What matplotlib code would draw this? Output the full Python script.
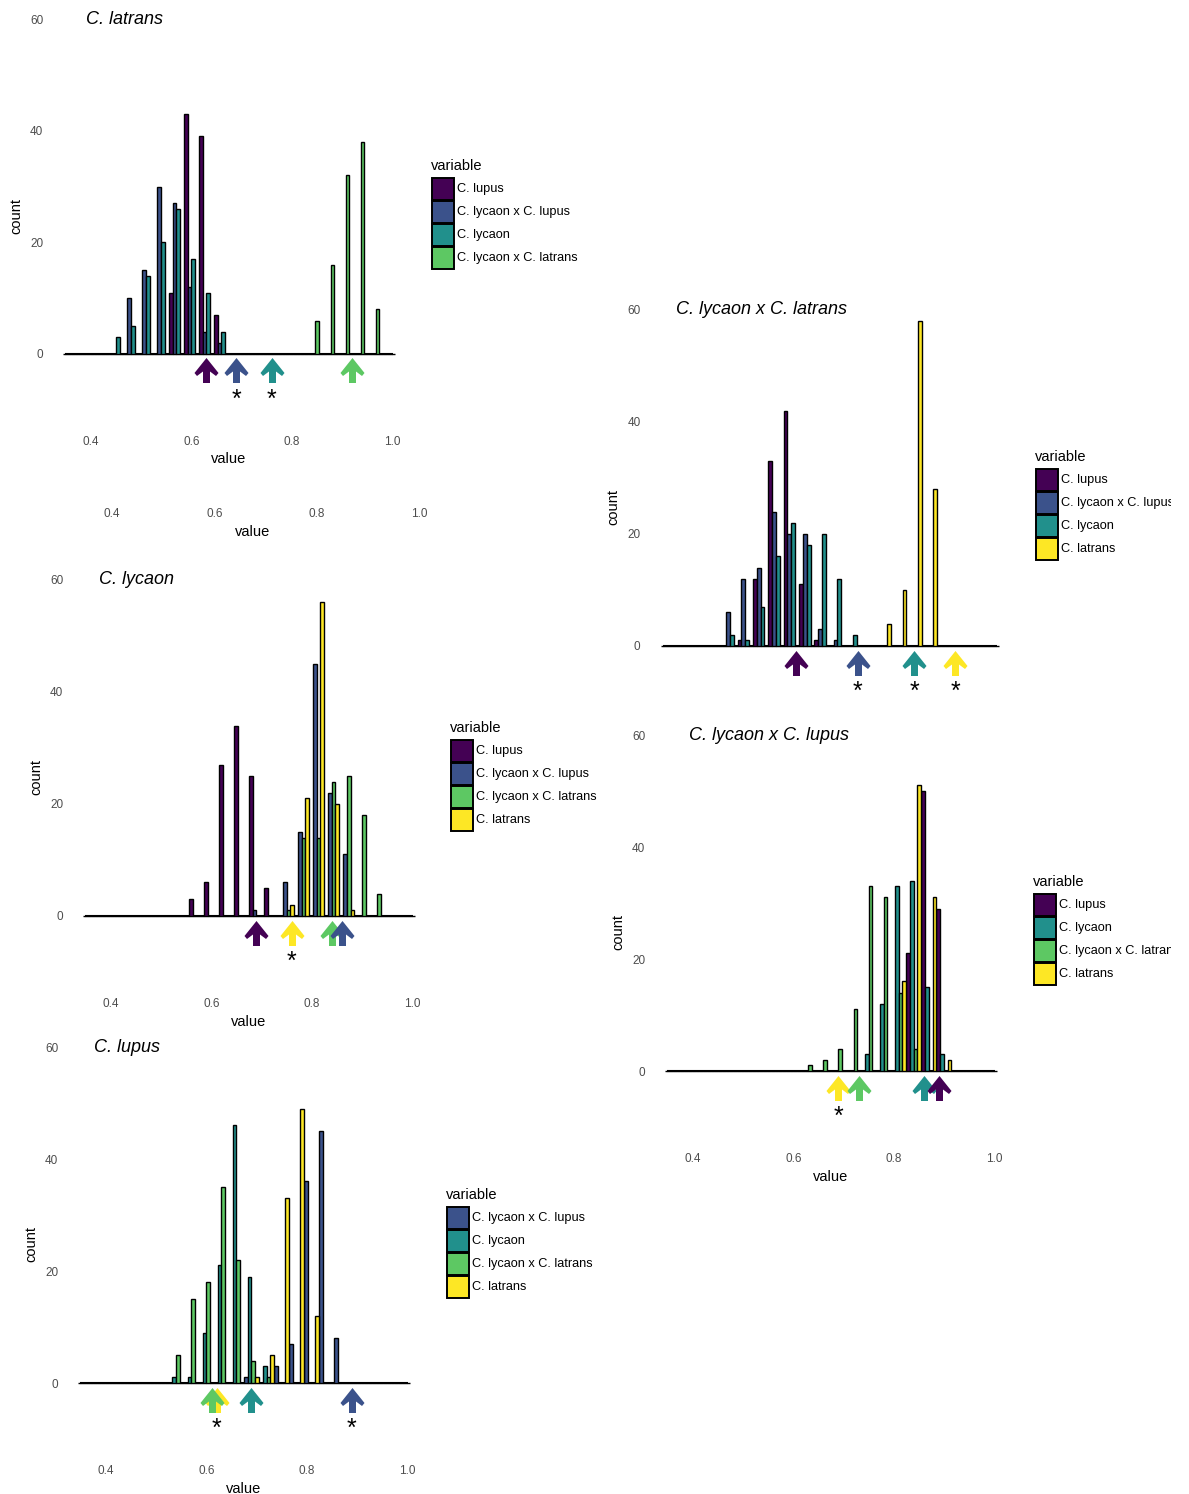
import matplotlib
matplotlib.use('Agg')
import matplotlib.pyplot as plt
from matplotlib.path import Path
from matplotlib.patches import Rectangle

plt.rcParams['font.family'] = ['Liberation Sans', 'DejaVu Sans']

W, H = 1189, 1494

colors = {
    'C. lupus': '#440154',
    'C. lycaon x C. lupus': '#3B528B',
    'C. lycaon': '#21908C',
    'C. lycaon x C. latrans': '#5DC863',
    'C. latrans': '#FDE725',
}

all_bins = [0.36, 0.39, 0.42, 0.45, 0.48, 0.51, 0.54, 0.57, 0.60, 0.63, 0.66,
            0.69, 0.72, 0.75, 0.78, 0.81, 0.84, 0.87, 0.90, 0.93, 0.96, 0.99]

# C. latrans
latrans_bins = [0.45, 0.48, 0.51, 0.54, 0.57, 0.60, 0.63, 0.66, 0.84, 0.87, 0.90, 0.93, 0.96]
latrans_counts = {
    'C. lupus':               [0, 0, 0, 0, 11, 43, 39, 7, 0, 0, 0, 0, 0],
    'C. lycaon x C. lupus':   [0, 10, 15, 30, 27, 12, 4, 2, 0, 0, 0, 0, 0],
    'C. lycaon':              [3, 5, 14, 20, 26, 17, 11, 4, 0, 0, 0, 0, 0],
    'C. lycaon x C. latrans': [0, 0, 0, 0, 0, 0, 0, 0, 6, 16, 32, 38, 8],
}
latrans_means = {'C. lupus': 0.63, 'C. lycaon x C. lupus': 0.69,
                 'C. lycaon': 0.76, 'C. lycaon x C. latrans': 0.92}
latrans_stars = ['C. lycaon x C. lupus', 'C. lycaon']

# C. lycaon
lycaon_bins = [0.57, 0.60, 0.63, 0.66, 0.69, 0.72, 0.75, 0.78, 0.81, 0.84, 0.87, 0.90, 0.93]
lycaon_counts = {
    'C. lupus':               [3, 6, 27, 34, 25, 5, 0, 0, 0, 0, 0, 0, 0],
    'C. lycaon x C. lupus':   [0, 0, 0, 0, 1, 0, 6, 15, 45, 22, 11, 0, 0],
    'C. lycaon x C. latrans': [0, 0, 0, 0, 0, 0, 1, 14, 14, 24, 25, 18, 4],
    'C. latrans':             [0, 0, 0, 0, 0, 0, 2, 21, 56, 20, 1, 0, 0],
}
lycaon_means = {'C. lupus': 0.69, 'C. latrans': 0.76,
                'C. lycaon x C. latrans': 0.84, 'C. lycaon x C. lupus': 0.86}
lycaon_stars = ['C. latrans']

# C. lupus
lupus_bins = [0.54, 0.57, 0.60, 0.63, 0.66, 0.69, 0.72, 0.75, 0.78, 0.81, 0.84, 0.87]
lupus_counts = {
    'C. lycaon x C. lupus':   [0, 0, 0, 0, 0, 1, 0, 3, 7, 36, 45, 8],
    'C. lycaon':              [1, 1, 9, 21, 46, 19, 3, 0, 0, 0, 0, 0],
    'C. lycaon x C. latrans': [5, 15, 18, 35, 22, 4, 1, 0, 0, 0, 0, 0],
    'C. latrans':             [0, 0, 0, 0, 0, 1, 5, 33, 49, 12, 0, 0],
}
lupus_means = {'C. latrans': 0.621, 'C. lycaon x C. latrans': 0.611,
               'C. lycaon': 0.69, 'C. lycaon x C. lupus': 0.89}
lupus_stars = ['C. latrans', 'C. lycaon x C. lupus']

# C. lycaon x C. latrans
lyclat_bins = [0.48, 0.51, 0.54, 0.57, 0.60, 0.63, 0.66, 0.69, 0.72, 0.78, 0.81, 0.84, 0.87]
lyclat_counts = {
    'C. lupus':             [0, 1, 12, 33, 42, 11, 1, 0, 0, 0, 0, 0, 0],
    'C. lycaon x C. lupus': [6, 12, 14, 24, 20, 20, 3, 1, 0, 0, 0, 0, 0],
    'C. lycaon':            [2, 1, 7, 16, 22, 18, 20, 12, 2, 0, 0, 0, 0],
    'C. latrans':           [0, 0, 0, 0, 0, 0, 0, 0, 0, 4, 10, 58, 28],
}
lyclat_means = {'C. lupus': 0.61, 'C. lycaon x C. lupus': 0.73,
                'C. lycaon': 0.84, 'C. latrans': 0.92}
lyclat_stars = ['C. lycaon x C. lupus', 'C. lycaon', 'C. latrans']

# C. lycaon x C. lupus
lyclup_bins = [0.63, 0.66, 0.69, 0.72, 0.75, 0.78, 0.81, 0.84, 0.87, 0.90]
lyclup_counts = {
    'C. lupus':               [0, 0, 0, 0, 0, 0, 0, 21, 50, 29],
    'C. lycaon':              [0, 0, 0, 0, 3, 12, 33, 34, 15, 3],
    'C. lycaon x C. latrans': [1, 2, 4, 11, 33, 31, 14, 4, 0, 0],
    'C. latrans':             [0, 0, 0, 0, 0, 0, 16, 51, 31, 2],
}
lyclup_means = {'C. latrans': 0.69, 'C. lycaon x C. latrans': 0.73,
                'C. lycaon': 0.861, 'C. lupus': 0.891}
lyclup_stars = ['C. latrans']

xlim = (0.3175, 1.0325)
ylim = (-14, 63.5)
slot = 0.0075

# pixel layout: x of 0.4, x of 1.0, y of 0, y of 60, title left, legend x, legend y,
# legend clip, show x axis text
panels = [
    ('C. latrans', latrans_bins, latrans_counts, latrans_means, latrans_stars,
     (91, 392, 354, 19, 86, 431, 166, 640, True)),
    ('C. lycaon', lycaon_bins, lycaon_counts, lycaon_means, lycaon_stars,
     (111, 412, 916, 580, 99, 450, 728, 640, True)),
    ('C. lupus', lupus_bins, lupus_counts, lupus_means, lupus_stars,
     (106, 407, 1383, 1047, 94, 446, 1195, 640, True)),
    ('C. lycaon x C. latrans', lyclat_bins, lyclat_counts, lyclat_means, lyclat_stars,
     (689, 996, 646, 310, 676, 1035, 457, 1171, False)),
    ('C. lycaon x C. lupus', lyclup_bins, lyclup_counts, lyclup_means, lyclup_stars,
     (693, 994, 1071, 735, 689, 1033, 882, 1171, True)),
]

arrow_marker = Path(
    [(0, 12.5), (12, -2.5), (9.5, -5.5), (3.5, -1), (3.5, -12.5),
     (-3.5, -12.5), (-3.5, -1), (-9.5, -5.5), (-12, -2.5), (0, 12.5)],
    [Path.MOVETO] + [Path.LINETO] * 8 + [Path.CLOSEPOLY])

fig = plt.figure(figsize=(W / 100, H / 100), dpi=100)


def add_px_axes(x04, x10, y0, y60):
    sx = (x10 - x04) / 0.6
    sy = (y0 - y60) / 60
    left = x04 + (xlim[0] - 0.4) * sx
    right = x04 + (xlim[1] - 0.4) * sx
    top = y0 - ylim[1] * sy
    bottom = y0 - ylim[0] * sy
    return fig.add_axes([left / W, 1 - bottom / H, (right - left) / W, (bottom - top) / H]), sx


def style_axes(ax, show_x=True):
    for s in ax.spines.values():
        s.set_visible(False)
    ax.tick_params(length=0, labelsize=8.5, labelcolor='#4D4D4D')
    ax.tick_params(axis='x', pad=2.5)
    ax.tick_params(axis='y', pad=4.5)
    ax.set_xlim(*xlim)
    if show_x:
        ax.set_xticks([0.4, 0.6, 0.8, 1.0])
        ax.set_xticklabels(['0.4', '0.6', '0.8', '1.0'])
        ax.set_xlabel('value', fontsize=10.5, labelpad=3.5)
    else:
        ax.set_xticks([])


def draw_legend(left, top, names, right):
    y_bot = top + 4 * 23 + 30
    y_top = top - 15
    ax = fig.add_axes([(left - 6) / W, 1 - y_bot / H, (right - left + 6) / W, (y_bot - y_top) / H])
    ax.set_xlim(left - 6, right)
    ax.set_ylim(y_bot, y_top)
    ax.axis('off')
    ax.text(left, top, 'variable', fontsize=10.5, va='center', ha='left')
    for k, name in enumerate(names):
        yc = top + 23 + 23 * k
        ax.add_patch(Rectangle((left + 1, yc - 11), 22, 22, facecolor=colors[name],
                               edgecolor='black', linewidth=1.4))
        ax.text(left + 26, yc, name, fontsize=9.2, va='center', ha='left', clip_on=True)


# stray x axis left over under the first panel
ax0 = fig.add_axes([69.8 / W, 1 - 505 / H, (435.6 - 69.8) / W, 5 / H])
ax0.set_facecolor('none')
style_axes(ax0)
ax0.set_yticks([])

for title, bins, counts, means, stars, lay in panels:
    x04, x10, y0, y60, tx, lx, ly, lclip, show_x = lay
    ax, sx = add_px_axes(x04, x10, y0, y60)
    style_axes(ax, show_x)
    ax.set_ylim(*ylim)
    ax.set_yticks([0, 20, 40, 60])
    ax.set_ylabel('count', fontsize=10.5, labelpad=5)

    ax.hlines(0, all_bins[0] - 1.5 * slot, all_bins[-1] + 1.5 * slot,
              color='black', linewidth=1.5, zorder=1)
    names = list(counts.keys())
    for i, name in enumerate(names):
        full = [counts[name][bins.index(b)] if b in bins else 0 for b in all_bins]
        pos = [b + (i - 1.5) * slot for b in all_bins]
        ax.bar(pos, full, width=slot, color=colors[name], edgecolor='black',
               linewidth=1.0, zorder=2)

    for name, m in means.items():
        ax.plot([m], [-2.95], marker=arrow_marker, ms=18, color=colors[name],
                markeredgewidth=0, linestyle='none', zorder=3)
    for name in stars:
        ax.annotate('*', xy=(means[name], 0), xytext=(0, -38), textcoords='offset points',
                    ha='center', va='baseline', fontsize=18, zorder=4)

    ax.text(0.4 + (tx - x04) / sx, 60, title, fontsize=13, style='italic',
            ha='left', va='center')
    draw_legend(lx, ly, names, lclip)

fig.savefig('out.png', dpi=100)
